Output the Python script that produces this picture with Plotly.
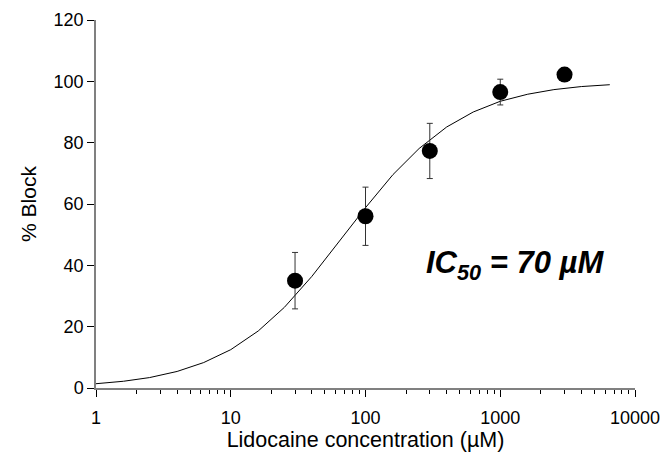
import plotly.graph_objects as go

# Measured data points
conc = [30, 100, 300, 1000, 3000]
block = [35, 56, 77.3, 96.5, 102.2]
err = [9.2, 9.5, 9.0, 4.2, 0.8]

# Fitted curve
fit_x = [1, 1.6, 2.5, 4, 6.3, 10, 16, 25, 40, 63, 100, 160, 250, 400, 630, 1000, 1600, 2500, 4000, 6500]
fit_y = [1.4, 2.2, 3.4, 5.4, 8.3, 12.5, 18.6, 26.3, 36.4, 47.4, 58.8, 69.6, 78.1, 85.1, 90.0, 93.5, 95.8, 97.3, 98.3, 98.9]

xticks = [1, 10, 100, 1000, 10000]
yticks = [0, 20, 40, 60, 80, 100, 120]

FONT = "Liberation Sans, Arial, sans-serif"
AX = "#808080"

fig = go.Figure()
fig.add_trace(go.Scatter(x=fit_x, y=fit_y, mode="lines",
                         line=dict(color="black", width=1), showlegend=False))
fig.add_trace(go.Scatter(x=conc, y=block, mode="markers",
                         marker=dict(color="black", size=16),
                         error_y=dict(type="data", array=err, color="#333333", thickness=1, width=3),
                         showlegend=False))

fig.add_annotation(x=0.777, y=0.335, xref="paper", yref="paper", showarrow=False,
                   xanchor="center", yanchor="middle",
                   text="<b><i>IC<sub>50</sub> = 70 µM</i></b>",
                   font=dict(family=FONT, size=31, color="black"))

fig.update_layout(
    template="none",
    width=663, height=452,
    margin=dict(l=96, r=28, t=20, b=64),
    paper_bgcolor="white", plot_bgcolor="white",
    font=dict(family=FONT, size=18, color="black"),
)
fig.update_xaxes(type="log", range=[0, 4], tickvals=xticks, ticktext=[str(v) for v in xticks],
                 automargin=False,
                 showgrid=False, zeroline=False, showline=True, linecolor=AX, linewidth=1.5,
                 ticks="outside", ticklen=7, tickcolor="black", tickwidth=1,
                 minor=dict(ticks="outside", ticklen=4, tickcolor="black", tickwidth=1, dtick="D1", showgrid=False),
                 ticklabelstandoff=6,
                 title=dict(text="Lidocaine concentration (µM)", standoff=5, font=dict(size=21.5)),
                 tickfont=dict(size=18))
fig.update_yaxes(range=[0, 120], tickvals=yticks, showgrid=False, zeroline=False,
                 automargin=False,
                 showline=True, linecolor=AX, linewidth=1.5,
                 ticks="outside", ticklen=7, tickcolor="black", tickwidth=1,
                 title=dict(text="% Block", standoff=11, font=dict(size=21)), tickfont=dict(size=18))

fig.write_html("out.html")
